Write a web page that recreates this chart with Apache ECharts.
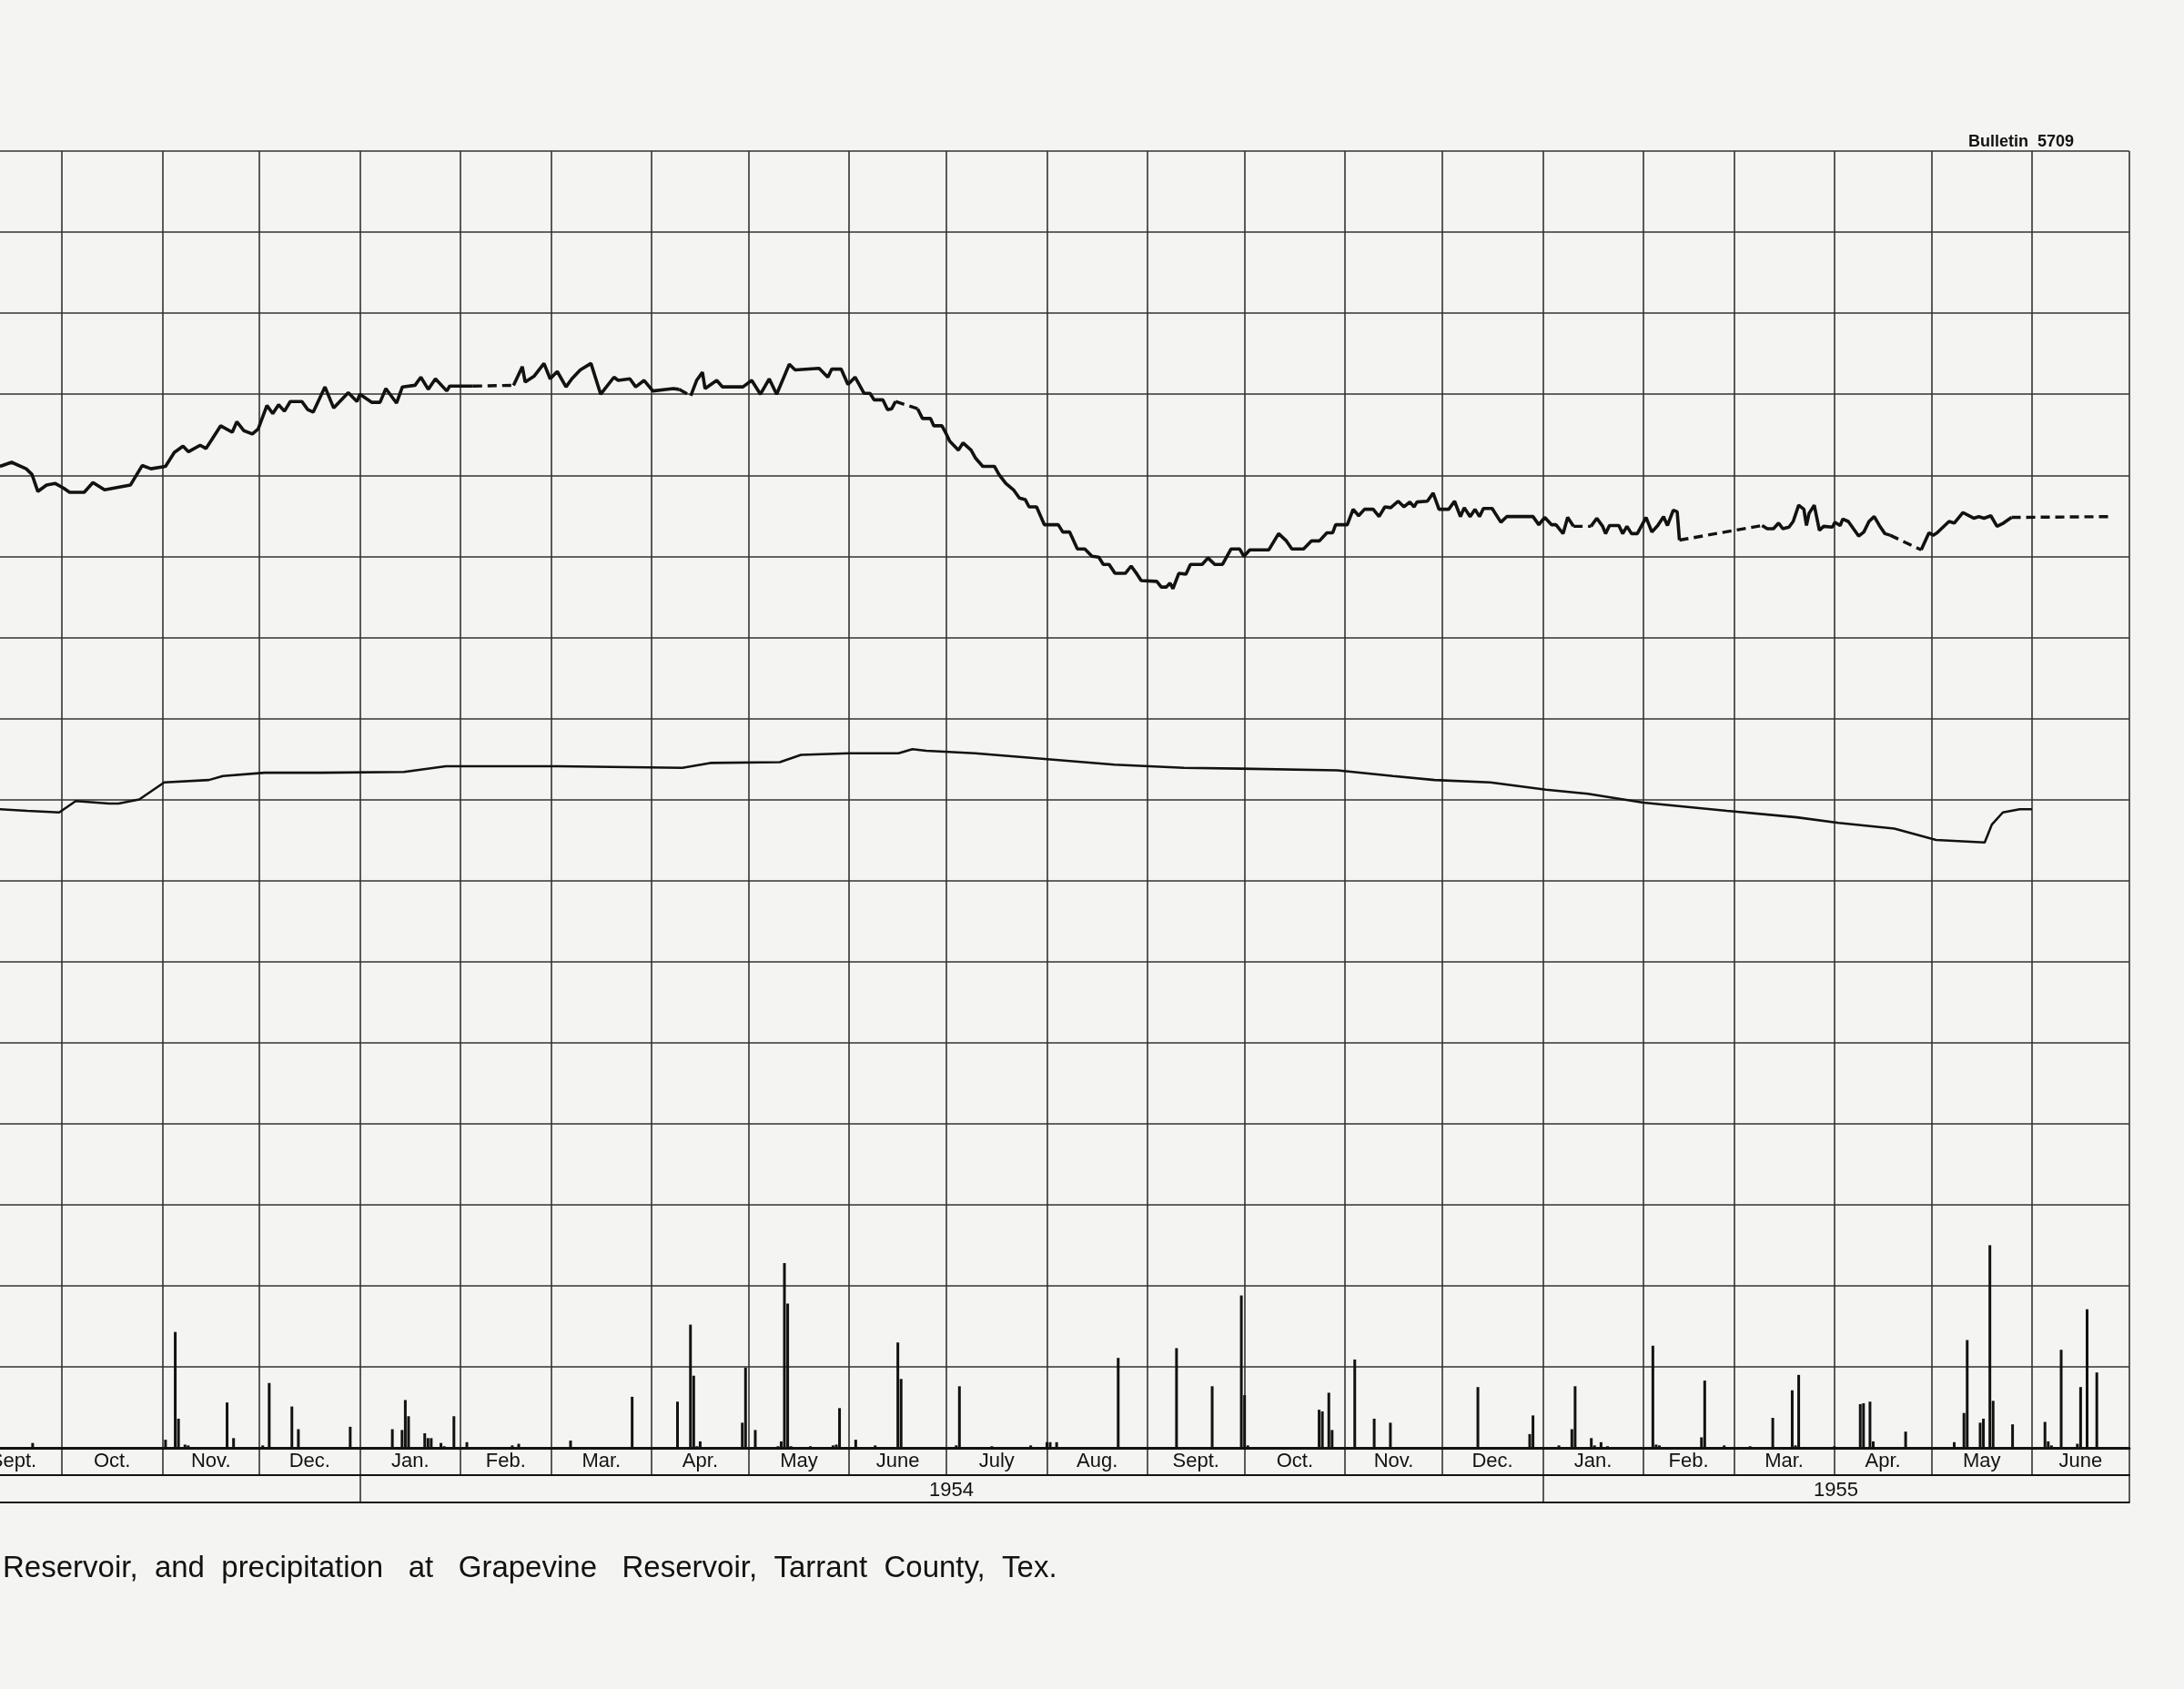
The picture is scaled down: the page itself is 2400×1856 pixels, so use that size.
<!DOCTYPE html>
<html>
<head>
<meta charset="utf-8">
<script src="https://cdn.jsdelivr.net/npm/echarts@6/dist/echarts.min.js"></script>
<style>
html,body{margin:0;padding:0;background:#f4f4f2;}
#chart{width:2400px;height:1856px;}
</style>
</head>
<body>
<div id="chart"></div>
<script>
// ---------------- DATA (x = days after 1953-10-01) ----------------
const monthStarts = ['1953-09-01','1953-10-01','1953-11-01','1953-12-01','1954-01-01','1954-02-01','1954-03-01',
  '1954-04-01','1954-05-01','1954-06-01','1954-07-01','1954-08-01','1954-09-01','1954-10-01','1954-11-01',
  '1954-12-01','1955-01-01','1955-02-01','1955-03-01','1955-04-01','1955-05-01','1955-06-01','1955-07-01'];
const monthNames = ['Sept.','Oct.','Nov.','Dec.','Jan.','Feb.','Mar.','Apr.','May','June','July','Aug.',
  'Sept.','Oct.','Nov.','Dec.','Jan.','Feb.','Mar.','Apr.','May','June'];
const yearStarts = ['1954-01-01','1955-01-01','1955-07-01'];
const yearNames = ['1954','1955'];

// Upper hydrograph (recorded, solid segments)
const wellSeg1 = [[-19.1,12.11],[-15.5,12.16],[-11.0,12.08],[-9.2,12.01],[-7.4,11.80],[-4.7,11.88],[-2.1,11.90],[0.6,11.84],
  [2.4,11.79],[6.9,11.79],[9.6,11.91],[13.2,11.82],[18.5,11.86],[21.2,11.88],[24.8,12.12],[27.5,12.08],[32.0,12.11],
  [34.7,12.28],[37.4,12.36],[39.1,12.29],[42.7,12.37],[44.5,12.33],[46.3,12.44],[49.0,12.61],[52.6,12.53],[54.0,12.66],
  [56.2,12.55],[58.8,12.51],[60.6,12.57],[63.3,12.86],[65.1,12.76],[66.9,12.87],[68.7,12.79],[70.5,12.91],[74.1,12.91],
  [75.9,12.81],[77.6,12.78],[81.2,13.09],[83.9,12.83],[88.4,13.02],[91.1,12.91],[92.0,13.00],[95.6,12.90],[98.2,12.90],
  [100.0,13.07],[103.3,12.89],[105.1,13.09],[109.0,13.11],[110.8,13.21],[113.1,13.06],[115.3,13.19],[118.8,13.04],
  [119.7,13.10],[126.9,13.10]];
const wellSeg2 = [[139.4,13.11],[142.1,13.34],[143.0,13.15],[145.7,13.22],[148.8,13.38],[150.7,13.19],[152.9,13.28],
  [155.6,13.09],[157.4,13.19],[160.0,13.30],[163.3,13.38],[166.3,13.00],[170.4,13.21],[171.7,13.17],[175.3,13.19],
  [177.1,13.09],[179.7,13.17],[182.4,13.04],[188.7,13.07],[190.5,13.06]];
const wellSeg3 = [[194.1,12.98],[195.9,13.17],[197.7,13.27],[198.5,13.07],[202.1,13.17],[203.9,13.09],[210.2,13.09],
  [212.9,13.17],[215.6,13.00],[218.3,13.19],[220.6,13.00],[224.5,13.37],[226.3,13.30],[233.7,13.32],[236.4,13.21],
  [237.6,13.31],[240.5,13.31],[242.6,13.12],[244.8,13.21],[247.6,13.01],[249.4,13.01],[250.7,12.93],[253.4,12.93],
  [254.8,12.81],[256.1,12.82],[257.3,12.91]];
const wellSeg4 = [[264.1,12.82],[265.6,12.70],[268.1,12.70],[269.1,12.61],[271.6,12.61],[272.7,12.53],[274.0,12.42],
  [276.7,12.31],[278.1,12.40],[280.6,12.31],[282.0,12.21],[284.2,12.11],[287.8,12.11],[289.2,12.01],[291.3,11.90],
  [293.7,11.82],[295.5,11.72],[297.3,11.70],[298.5,11.61],[300.8,11.61],[303.2,11.39],[307.5,11.39],[308.9,11.30],
  [311.0,11.30],[313.4,11.09],[315.7,11.09],[317.9,11.00],[320.0,10.99],[321.4,10.90],[323.2,10.90],[325.0,10.79],
  [328.2,10.79],[330.0,10.88],[331.8,10.78],[333.1,10.70],[337.9,10.69],[339.3,10.62],[340.8,10.62],[342.0,10.67],
  [342.9,10.60],[344.7,10.79],[346.9,10.78],[348.3,10.90],[351.9,10.90],[353.7,10.98],[355.8,10.90],[358.2,10.90],
  [360.8,11.09],[363.5,11.09],[364.8,11.00],[366.6,11.08],[372.5,11.08],[375.5,11.28],[377.9,11.19],[379.6,11.09],
  [383.2,11.09],[385.6,11.19],[388.1,11.19],[390.4,11.29],[392.2,11.29],[393.1,11.39],[396.7,11.39],[398.5,11.58],
  [400.2,11.50],[402.0,11.58],[404.7,11.58],[406.5,11.49],[408.3,11.61],[410.1,11.60],[412.4,11.68],[414.2,11.61],
  [416.0,11.67],[417.3,11.61],[418.2,11.67],[421.4,11.68],[423.2,11.78],[425.0,11.58],[428.0,11.58],[429.8,11.68],
  [431.6,11.49],[432.8,11.60],[434.6,11.49],[436.1,11.58],[437.5,11.49],[438.7,11.59],[441.4,11.59],[444.1,11.42],
  [445.9,11.49],[454.0,11.49],[455.8,11.39],[457.6,11.48],[459.7,11.39],[461.1,11.39],[463.3,11.28],[464.7,11.48],
  [466.5,11.37]];
const wellSeg5 = [[471.9,11.37],[473.7,11.47],[475.5,11.37],[476.4,11.28],[477.6,11.38],[480.5,11.38],[481.7,11.28],
  [483.0,11.37],[484.4,11.28],[486.2,11.28],[488.9,11.48],[490.7,11.30],[492.5,11.38],[494.3,11.49],[495.5,11.38],
  [497.3,11.57],[498.5,11.55],[499.2,11.20]];
const wellSeg6 = [[524.7,11.38],[526.3,11.34],[528.2,11.34],[529.8,11.41],[531.1,11.34],[533.0,11.36],[534.3,11.43],
  [536.0,11.63],[537.6,11.58],[538.4,11.38],[539.2,11.53],[540.8,11.63],[542.4,11.32],[543.7,11.37],[546.4,11.36],
  [547.2,11.42],[548.8,11.38],[549.6,11.46],[551.3,11.43],[554.5,11.25],[556.1,11.30],[557.7,11.43],[559.3,11.49],
  [560.9,11.38],[562.6,11.28],[564.2,11.26]];
const wellSeg7 = [[573.8,11.08],[576.2,11.29],[577.5,11.26],[578.7,11.29],[582.4,11.43],[584.0,11.41],[586.7,11.54],
  [590.0,11.47],[591.6,11.49],[593.2,11.47],[595.3,11.50],[597.2,11.37],[599.2,11.41],[601.7,11.48]];
// Upper hydrograph (estimated, dashed segments)
const wellEstimated = [
  [[126.9,13.10],[139.4,13.11]],
  [[190.5,13.06],[194.1,12.98]],
  [[257.3,12.91],[264.1,12.82]],
  [[466.5,11.37],[471.9,11.37]],
  [[499.2,11.20],[524.7,11.38]],
  [[564.2,11.26],[573.8,11.08]],
  [[601.7,11.48],[632.7,11.49]]
];

// Middle hydrograph (reservoir)
const reservoir = [[-19.1,7.88],[-10.7,7.86],[-0.8,7.84],[4.3,7.98],[14.6,7.95],[17.5,7.95],[23.9,8.00],[31.6,8.21],
  [45.4,8.24],[49.7,8.29],[62.6,8.33],[79.8,8.33],[105.6,8.34],[118.5,8.41],[152.9,8.41],[191.5,8.39],[200.1,8.45],
  [221.6,8.46],[228.1,8.55],[243.1,8.57],[258.2,8.57],[262.5,8.62],[266.8,8.60],[281.8,8.57],[303.3,8.50],[324.8,8.43],
  [346.3,8.39],[363.5,8.38],[393.6,8.36],[410.8,8.29],[423.6,8.24],[440.8,8.21],[458.0,8.12],[470.9,8.07],[488.1,7.96],
  [513.9,7.86],[535.4,7.78],[548.3,7.71],[565.5,7.64],[578.4,7.50],[593.4,7.47],[595.6,7.69],[599.0,7.84],[604.2,7.88],
  [608.0,7.88]];

// Daily precipitation (inches)
const precipitation = [[-9,0.06],[32,0.10],[35,1.43],[36,0.36],[38,0.04],[39,0.03],[51,0.56],[53,0.12],[62,0.03],
  [64,0.80],[71,0.51],[73,0.23],[89,0.26],[102,0.23],[105,0.22],[106,0.59],[107,0.39],[112,0.18],[113,0.12],[114,0.12],
  [117,0.06],[118,0.02],[121,0.39],[125,0.07],[139,0.03],[141,0.05],[157,0.09],[176,0.63],[190,0.57],[194,1.52],
  [195,0.89],[196,0.02],[197,0.08],[210,0.31],[211,0.99],[214,0.22],[221,0.02],[222,0.08],[223,2.28],[224,1.78],
  [225,0.02],[231,0.02],[238,0.03],[239,0.04],[240,0.49],[245,0.10],[251,0.03],[258,1.30],[259,0.85],[276,0.03],
  [277,0.76],[287,0.02],[299,0.03],[304,0.07],[305,0.07],[307,0.07],[326,1.11],[344,1.23],[355,0.76],[364,1.88],
  [365,0.65],[366,0.03],[388,0.47],[389,0.45],[391,0.68],[392,0.22],[399,1.09],[405,0.36],[410,0.31],[437,0.75],
  [453,0.17],[454,0.40],[462,0.03],[466,0.23],[467,0.76],[472,0.12],[473,0.03],[475,0.07],[477,0.02],[491,1.26],
  [492,0.04],[493,0.03],[506,0.13],[507,0.83],[513,0.03],[521,0.02],[528,0.37],[534,0.71],[535,0.03],[536,0.90],
  [547,0.02],[555,0.54],[556,0.55],[558,0.57],[559,0.08],[569,0.20],[584,0.07],[587,0.43],[588,1.33],[592,0.31],
  [593,0.36],[595,2.50],[596,0.58],[602,0.29],[612,0.32],[613,0.08],[614,0.03],[617,1.21],[622,0.05],[623,0.75],
  [625,1.71],[628,0.93]];

// ---------------- BUILD ----------------
const ORIGIN = Date.UTC(1953, 9, 1);
function dayOf(s){ const p = s.split('-').map(Number); return (Date.UTC(p[0], p[1]-1, p[2]) - ORIGIN) / 864e5; }
const monthDays = monthStarts.map(dayOf);
const monthMids = monthNames.map((n,i) => (monthDays[i] + monthDays[i+1]) / 2);
const yearDays = yearStarts.map(dayOf);
const yearMids = yearNames.map((n,i) => (yearDays[i] + yearDays[i+1]) / 2);
const xMin = monthDays[0], xMax = monthDays[monthDays.length-1];

function nameFor(v, mids, names){
  let best = 0; for (let i=1;i<mids.length;i++) if (Math.abs(mids[i]-v) < Math.abs(mids[best]-v)) best = i;
  return names[best];
}

const INK = '#121212', GRIDC = '#333333';
const FONT = "'Liberation Sans',sans-serif";
const GL = -38.9, GW = 2378.7;

function xAxisFor(idx, ticks, labels, mids, lineW){
  return {
    gridIndex: idx, type: 'value', min: xMin, max: xMax, position: 'bottom',
    axisLine: { show: true, onZero: false, lineStyle: { color: INK, width: lineW } },
    axisTick: { show: false, customValues: ticks },
    splitLine: { show: true, lineStyle: { color: GRIDC, width: 1.6 } },
    axisLabel: labels ? {
      show: true, inside: true, customValues: mids, margin: idx === 1 ? 15 : 13, verticalAlign: 'middle',
      formatter: v => nameFor(v, mids, labels),
      color: INK, fontFamily: FONT, fontSize: 22
    } : { show: false }
  };
}

const series = [];
[wellSeg1, wellSeg2, wellSeg3, wellSeg4, wellSeg5, wellSeg6, wellSeg7].forEach(seg => series.push({
  type: 'line', xAxisIndex: 0, yAxisIndex: 0, data: seg, showSymbol: false, symbol: 'none',
  lineStyle: { color: INK, width: 3.6 }, silent: true, z: 5
}));
wellEstimated.forEach(seg => series.push({
  type: 'line', xAxisIndex: 0, yAxisIndex: 0, data: seg, showSymbol: false, symbol: 'none',
  lineStyle: { color: INK, width: 3.4, type: [10, 6] }, silent: true, z: 5
}));
series.push({
  type: 'line', xAxisIndex: 0, yAxisIndex: 0, data: reservoir, showSymbol: false, symbol: 'none',
  lineStyle: { color: INK, width: 2.6 }, silent: true, z: 5
});
series.push({
  type: 'bar', xAxisIndex: 0, yAxisIndex: 0, data: precipitation, barWidth: 3,
  itemStyle: { color: INK }, silent: true, z: 4
});

const option = {
  animation: false,
  backgroundColor: '#f4f4f2',
  title: [
    { text: 'Bulletin  5709', left: 2158, top: 142,
      textStyle: { fontSize: 18, fontWeight: 'bold', color: INK, fontFamily: FONT } },
    { text: 'Reservoir,  and  precipitation   at   Grapevine   Reservoir,  Tarrant  County,  Tex.', left: -2, top: 1702,
      textStyle: { fontSize: 33, fontWeight: 'normal', color: INK, fontFamily: FONT } }
  ],
  grid: [
    { left: GL, width: GW, top: 166, height: 1425, outerBoundsMode: 'none', containLabel: false },
    { left: GL, width: GW, top: 1591, height: 30, outerBoundsMode: 'none', containLabel: false },
    { left: GL, width: GW, top: 1621, height: 30, outerBoundsMode: 'none', containLabel: false }
  ],
  xAxis: [
    xAxisFor(0, monthDays, null, null, 3.2),
    xAxisFor(1, monthDays, monthNames, monthMids, 2),
    xAxisFor(2, yearDays, yearNames, yearMids, 2)
  ],
  yAxis: [
    { gridIndex: 0, type: 'value', min: 0, max: 16, interval: 1,
      axisLine: { show: false }, axisTick: { show: false }, axisLabel: { show: false },
      splitLine: { show: true, lineStyle: { color: GRIDC, width: 1.6 } } },
    { gridIndex: 1, type: 'value', show: false, min: 0, max: 1 },
    { gridIndex: 2, type: 'value', show: false, min: 0, max: 1 }
  ],
  series: series
};

const chart = echarts.init(document.getElementById('chart'), null, { renderer: 'canvas' });
chart.setOption(option);
</script>
</body>
</html>
